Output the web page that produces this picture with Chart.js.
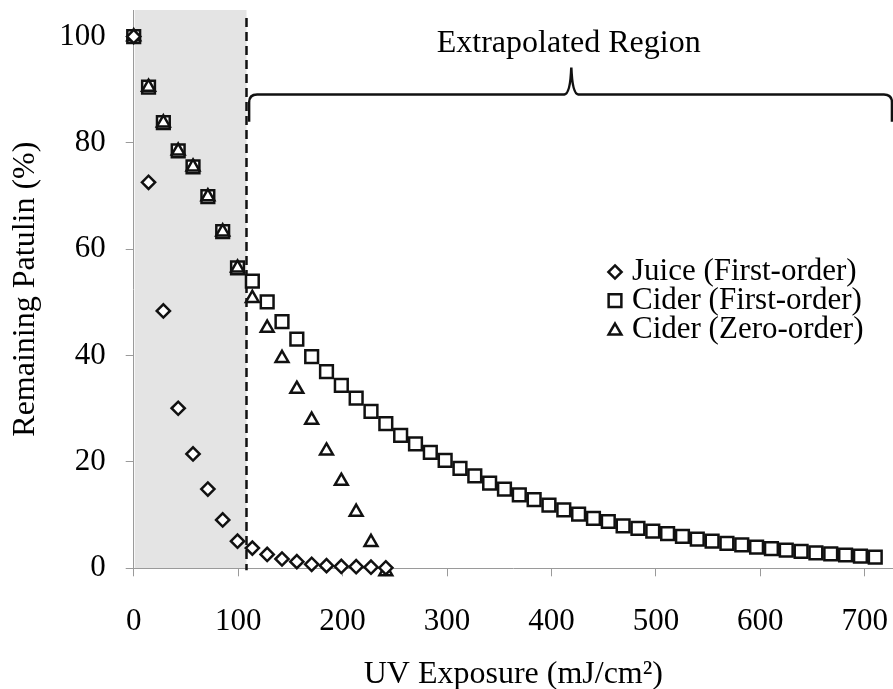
<!DOCTYPE html>
<html>
<head>
<meta charset="utf-8">
<script src="https://cdn.jsdelivr.net/npm/chart.js@4.4.0/dist/chart.umd.min.js"></script>
<style>
  html, body { margin: 0; padding: 0; background: #fff; }
  #wrap { width: 893px; height: 689px; }
</style>
</head>
<body>
<div id="wrap"><canvas id="patulinChart" width="893" height="689"></canvas></div>
<script>
// UV dose for every pass (mJ/cm2)
const uvDose = [0, 14.2, 28.4, 42.6, 56.8, 71, 85.2, 99.4, 113.6, 127.8, 142, 156.2, 170.4,
  184.6, 198.8, 213, 227.2, 241.4, 255.6, 269.8, 284, 298.2, 312.4, 326.6, 340.8, 355,
  369.2, 383.4, 397.6, 411.8, 426, 440.2, 454.4, 468.6, 482.8, 497, 511.2, 525.4, 539.6,
  553.8, 568, 582.2, 596.4, 610.6, 624.8, 639, 653.2, 667.4, 681.6, 695.8, 710];

const juiceFirstOrder = [100, 72.6, 48.4, 30.1, 21.5, 14.9, 9.1, 5.1, 3.8, 2.6, 1.75, 1.25,
  0.75, 0.5, 0.35, 0.3, 0.2, 0.1];

const ciderFirstOrder = [100, 90.5, 83.8, 78.5, 75.5, 69.9, 63.3, 56.5, 54.0, 50.1, 46.4, 43.1,
  39.8, 37.0, 34.4, 32.0, 29.5, 27.2, 25.0, 23.4, 21.8, 20.3, 18.8, 17.4, 16.0, 14.9, 13.8,
  12.9, 11.9, 11.0, 10.2, 9.4, 8.8, 8.0, 7.5, 7.0, 6.5, 6.0, 5.5, 5.1, 4.7, 4.4, 4.0, 3.7,
  3.4, 3.2, 2.9, 2.7, 2.5, 2.3, 2.1];

const ciderZeroOrder = [100, 90.5, 83.8, 78.5, 75.5, 69.9, 63.3, 56.5, 50.8, 45.2, 39.5, 33.7,
  27.9, 22.1, 16.4, 10.6, 4.9, -0.6];

const seriesLabels = ['Juice (First-order)', 'Cider (First-order)', 'Cider (Zero-order)'];
const xTicks = [0, 100, 200, 300, 400, 500, 600, 700];
const yTicks = [0, 20, 40, 60, 80, 100];

const measuredLimit = 108;   // end of the measured (shaded) region
const regionLabel = 'Extrapolated Region';

const FONT = "'Liberation Serif', 'Times New Roman', serif";
const AXIS_GREY = '#9a9a9a';

const toPoints = ys => ys.map((y, i) => ({ x: uvDose[i], y: y }));

const markers = [
  { style: 'rectRot', radius: 6.6 },
  { style: 'rect', radius: 9 },
  { style: 'triangle', radius: 7.4 }
];

function marker(ctx, style, r, x, y) {
  ctx.beginPath();
  if (style === 'rect') {
    const s = r * Math.SQRT1_2;
    ctx.rect(x - s, y - s, 2 * s, 2 * s);
  } else if (style === 'rectRot') {
    ctx.moveTo(x, y - r); ctx.lineTo(x + r, y); ctx.lineTo(x, y + r); ctx.lineTo(x - r, y);
    ctx.closePath();
  } else {
    let a = 0;
    ctx.moveTo(x + Math.sin(a) * r, y - Math.cos(a) * r);
    a += 2 * Math.PI / 3;
    ctx.lineTo(x + Math.sin(a) * r, y - Math.cos(a) * r);
    a += 2 * Math.PI / 3;
    ctx.lineTo(x + Math.sin(a) * r, y - Math.cos(a) * r);
    ctx.closePath();
  }
  ctx.fill();
  ctx.stroke();
}

const decorPlugin = {
  id: 'decor',
  beforeDraw(chart) {
    const { ctx, chartArea: a, scales: { x } } = chart;
    const xr = x.getPixelForValue(measuredLimit);
    ctx.save();
    ctx.fillStyle = '#e4e4e4';
    ctx.fillRect(a.left + 1, a.top, xr - a.left - 1, a.bottom - a.top);
    ctx.restore();
  },
  beforeDatasetsDraw(chart) {
    const { ctx, chartArea: a, scales: { x, y } } = chart;
    const xr = x.getPixelForValue(measuredLimit);
    ctx.save();
    // boundary of measured data
    ctx.strokeStyle = '#111';
    ctx.lineWidth = 2.5;
    ctx.setLineDash([9, 5]);
    ctx.beginPath();
    ctx.moveTo(xr, a.top + 8);
    ctx.lineTo(xr, a.bottom + 2);
    ctx.stroke();
    ctx.setLineDash([]);

    // curly brace over the extrapolated part
    const L = x.getPixelForValue(110.5);
    const R = x.getPixelForValue(726);
    const M = x.getPixelForValue(419);
    const yH = y.getPixelForValue(89.1);
    const yTip = y.getPixelForValue(94.2);
    const yEnd = y.getPixelForValue(84);
    ctx.lineWidth = 2.5;
    ctx.beginPath();
    ctx.moveTo(L, yEnd);
    ctx.lineTo(L, yH + 8);
    ctx.quadraticCurveTo(L, yH, L + 8, yH);
    ctx.lineTo(M - 7, yH);
    ctx.quadraticCurveTo(M - 1, yH - 1, M, yTip);
    ctx.quadraticCurveTo(M + 1, yH - 1, M + 7, yH);
    ctx.lineTo(R - 8, yH);
    ctx.quadraticCurveTo(R, yH, R, yH + 8);
    ctx.lineTo(R, yEnd);
    ctx.stroke();

    ctx.fillStyle = '#000';
    ctx.font = '32px ' + FONT;
    ctx.textAlign = 'center';
    ctx.textBaseline = 'middle';
    ctx.fillText(regionLabel, x.getPixelForValue(416.5), y.getPixelForValue(98.6));
    ctx.restore();
  },
  afterDraw(chart) {
    const { ctx } = chart;
    const left = 615, top = 272, gap = 28.7;
    ctx.save();
    ctx.font = '31px ' + FONT;
    ctx.textBaseline = 'middle';
    ctx.textAlign = 'left';
    seriesLabels.forEach((label, i) => {
      const yy = top + i * gap;
      ctx.fillStyle = '#fff';
      ctx.strokeStyle = '#111';
      ctx.lineWidth = 2.5;
      marker(ctx, markers[i].style, markers[i].radius, left, yy + (i === 2 ? 1.5 : 0));
      ctx.fillStyle = '#000';
      ctx.fillText(label, left + 17, yy);
    });
    ctx.restore();
  }
};

const series = [juiceFirstOrder, ciderFirstOrder, ciderZeroOrder];
const drawOrder = [0, 2, 1];

new Chart(document.getElementById('patulinChart').getContext('2d'), {
  type: 'scatter',
  data: {
    datasets: series.map((ys, i) => ({
      label: seriesLabels[i],
      data: toPoints(ys),
      order: drawOrder[i],
      showLine: false,
      clip: false,
      pointStyle: markers[i].style,
      pointRadius: markers[i].radius,
      pointBackgroundColor: '#fff',
      pointBorderColor: '#111',
      pointBorderWidth: 2.5
    }))
  },
  options: {
    responsive: false,
    animation: false,
    events: [],
    layout: { padding: { top: 10, right: 0, bottom: 0, left: 0 }, autoPadding: false },
    plugins: {
      legend: { display: false },
      tooltip: { enabled: false }
    },
    scales: {
      x: {
        type: 'linear',
        min: 0,
        max: 727,
        afterBuildTicks: s => { s.ticks = xTicks.map(v => ({ value: v })); },
        afterFit: s => { s.paddingLeft = 0; s.paddingRight = 0; },
        grid: { drawOnChartArea: false, drawTicks: true, tickLength: 8, color: AXIS_GREY, lineWidth: 1 },
        border: { display: true, color: AXIS_GREY, width: 1 },
        ticks: { color: '#000', padding: 26.6, maxRotation: 0, font: { family: FONT, size: 31 } },
        title: {
          display: true,
          text: 'UV Exposure (mJ/cm²)',
          color: '#000',
          font: { family: FONT, size: 32, lineHeight: 0.9 },
          padding: { top: -6.5, bottom: 0 }
        }
      },
      y: {
        type: 'linear',
        min: 0,
        max: 105,
        afterBuildTicks: s => { s.ticks = yTicks.map(v => ({ value: v })); },
        afterFit: s => { s.paddingTop = 0; s.paddingBottom = 0; },
        grid: { drawOnChartArea: false, drawTicks: true, tickLength: 8, color: AXIS_GREY, lineWidth: 1 },
        border: { display: true, color: AXIS_GREY, width: 1 },
        ticks: { color: '#000', padding: 20, font: { family: FONT, size: 31 } },
        title: {
          display: true,
          text: 'Remaining Patulin (%)',
          color: '#000',
          font: { family: FONT, size: 32, lineHeight: 1.2 },
          padding: { top: 6.1, bottom: -5.3 }
        }
      }
    }
  },
  plugins: [decorPlugin]
});
</script>
</body>
</html>
